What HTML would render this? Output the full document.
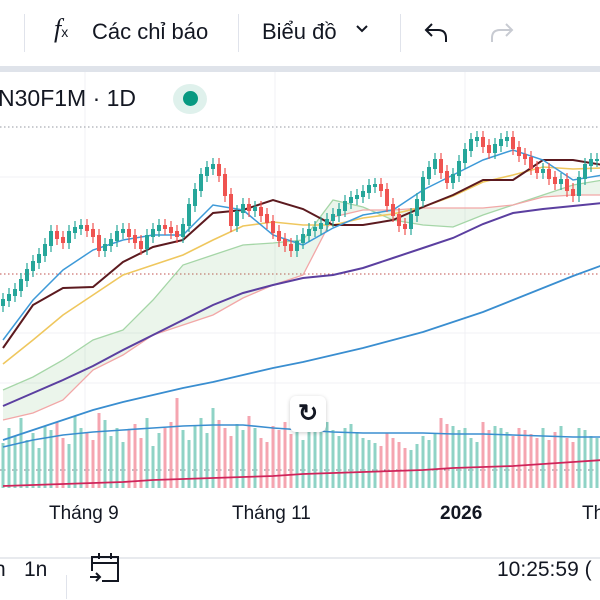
<!DOCTYPE html>
<html><head><meta charset="utf-8"><style>
body{margin:0;width:600px;height:600px;overflow:hidden;background:#fff;font-family:"Liberation Sans","Noto Sans CJK SC",sans-serif;position:relative}
.t{position:absolute;color:#131722;white-space:nowrap}
</style></head><body>
<div class="t" style="left:24px;top:14px;width:1px;height:38px;background:#e0e3eb"></div>
<div class="t" style="left:54px;top:14px;font-size:26px;font-family:'Liberation Serif',serif;font-style:italic">f<span style="font-size:14px;font-style:normal;font-family:'Liberation Sans',sans-serif">x</span></div>
<div class="t" style="left:92px;top:19px;font-size:22px">Các chỉ báo</div>
<div class="t" style="left:238px;top:14px;width:1px;height:38px;background:#e0e3eb"></div>
<div class="t" style="left:262px;top:19px;font-size:22px">Biểu đồ</div>
<div class="t" style="left:354px;top:20px;width:16px;height:16px"><svg width="16" height="16"><polyline points="3,6 8,11 13,6" fill="none" stroke="#131722" stroke-width="2"/></svg></div>
<div class="t" style="left:400px;top:14px;width:1px;height:38px;background:#e0e3eb"></div>
<div class="t" style="left:424px;top:20px;width:26px;height:24px"><svg width="26" height="24"><path d="M8 4 L2 10 L8 16 M2 10 H14 Q22 10 22 18 V22" fill="none" stroke="#131722" stroke-width="2"/></svg></div>
<div class="t" style="left:488px;top:20px;width:26px;height:24px"><svg width="26" height="24"><path d="M18 4 L24 10 L18 16 M24 10 H12 Q4 10 4 18 V22" fill="none" stroke="#c8cbd2" stroke-width="2"/></svg></div>
<div class="t" style="left:0;top:66px;width:600px;height:6px;background:#dfe3ea"></div>
<svg id="c" width="600" height="600" style="position:absolute;left:0;top:0"></svg>
<div class="t" style="left:-2px;top:85px;font-size:23px">N30F1M · 1D</div>
<div class="t" style="left:173px;top:84px;width:34px;height:30px;border-radius:50%;background:#dff1ec"></div>
<div class="t" style="left:183px;top:91px;width:15px;height:15px;border-radius:50%;background:#089981"></div>
<div class="t" style="left:290px;top:396px;width:36px;height:36px;border-radius:6px;background:#fff;box-shadow:0 1px 4px rgba(0,0,0,.2);font-size:24px;text-align:center;line-height:36px;font-weight:bold">↻</div>
<div class="t" style="left:49px;top:503px;font-size:19px">Tháng 9</div>
<div class="t" style="left:232px;top:503px;font-size:19px">Tháng 11</div>
<div class="t" style="left:440px;top:503px;font-size:19px;font-weight:bold">2026</div>
<div class="t" style="left:582px;top:503px;font-size:19px">Th</div>
<div class="t" style="left:0;top:557px;width:600px;height:2px;background:#e8eaee"></div>
<div class="t" style="left:-6px;top:558px;font-size:21px">n</div>
<div class="t" style="left:24px;top:558px;font-size:21px">1n</div>
<div class="t" style="left:66px;top:575px;width:1px;height:24px;background:#e0e3eb"></div>
<div class="t" style="left:88px;top:551px;width:34px;height:34px">
<svg width="34" height="34"><path d="M4 20 V6 H30 V30 H14" fill="none" stroke="#131722" stroke-width="2"/><line x1="4" y1="12" x2="30" y2="12" stroke="#131722" stroke-width="2"/><line x1="11" y1="2" x2="11" y2="8" stroke="#131722" stroke-width="2"/><line x1="23" y1="2" x2="23" y2="8" stroke="#131722" stroke-width="2"/><path d="M2 26 H12 M8 22 L12 26 L8 30" fill="none" stroke="#131722" stroke-width="2"/></svg></div>
<div class="t" style="left:497px;top:558px;font-size:21px">10:25:59 (</div>
<script>
const closes=[1780,1785,1790,1800,1810,1818,1825,1835,1848,1842,1838,1848,1852,1854,1850,1844,1830,1835,1840,1848,1850,1844,1838,1832,1844,1850,1854,1852,1848,1844,1855,1875,1890,1905,1912,1915,1905,1885,1855,1868,1875,1870,1872,1865,1858,1848,1840,1835,1830,1838,1845,1850,1852,1856,1860,1865,1870,1878,1882,1884,1888,1894,1895,1890,1875,1865,1855,1852,1865,1880,1902,1912,1920,1908,1898,1905,1918,1930,1940,1942,1934,1928,1935,1940,1942,1932,1925,1922,1912,1908,1910,1902,1897,1900,1890,1885,1902,1915,1920,1920];
const volumes=[45,60,52,70,48,55,40,62,58,66,50,44,72,60,55,48,75,68,52,60,46,58,64,50,70,42,55,60,66,90,58,48,62,70,55,80,68,60,52,64,58,72,60,50,46,62,58,66,54,60,48,56,62,70,66,58,52,60,64,56,50,48,45,42,55,50,46,40,38,44,52,48,55,70,64,62,58,60,50,46,66,58,62,60,56,52,60,58,54,50,60,48,56,62,50,46,60,58,52,50];
const maroon=[1732,1775,1792,1793,1818,1833,1840,1867,1870,1880,1871,1855,1855,1860,1873,1885,1900,1900,1920,1920,1915];
const yellow=[1716,1740,1765,1785,1805,1815,1825,1840,1854,1858,1855,1855,1862,1866,1873,1884,1898,1905,1913,1911,1912];
const purple=[1674,1687,1700,1714,1730,1745,1760,1775,1787,1795,1802,1805,1812,1822,1832,1842,1856,1867,1871,1874,1877];
const longBlue=[1640,1650,1660,1670,1678,1685,1692,1698,1705,1712,1718,1725,1732,1740,1748,1758,1768,1780,1792,1804,1815];
const fastBlue=[1740,1780,1810,1830,1840,1845,1845,1875,1870,1845,1835,1852,1865,1870,1890,1905,1920,1930,1920,1900,1905];
const spanA=[1690,1703,1720,1740,1750,1780,1815,1825,1835,1837,1840,1880,1873,1860,1855,1853,1865,1875,1885,1895,1900];
const spanB=[1660,1667,1680,1710,1725,1745,1755,1765,1782,1795,1805,1863,1870,1870,1872,1872,1872,1875,1883,1885,1885];
const volMA=[41,48,53,56,58,60,62,63,63,60,58,56,55,55,55,54,54,53,52,51,51];
const volMA2=[2,3,4,5,6,8,9,10,11,12,14,15,16,17,18,20,21,22,24,26,28];

const svg=document.getElementById('c');const NS='http://www.w3.org/2000/svg';
const step=600/closes.length;
const xi=i=>step/2+i*step;
const xs=k=>3+k*30;
const yp=p=>2080-p;
const yv=v=>488-v;
function mk(tag,at,name){const e=document.createElementNS(NS,tag);for(const k in at)e.setAttribute(k,at[k]);


svg.appendChild(e);return e;}
[85,275,465].forEach(x=>mk('line',{x1:x,y1:72,x2:x,y2:490,stroke:'#f0f1f4'},'grid-line-vertical'));
[177,333,383].forEach(y=>mk('line',{x1:0,y1:y,x2:600,y2:y,stroke:'#f0f1f4'},'grid-line-horizontal'));
mk('line',{x1:0,y1:127,x2:600,y2:127,stroke:'#9598a1','stroke-dasharray':'1.5,2.5'},'high-price-line');
mk('line',{x1:0,y1:274,x2:600,y2:274,stroke:'#c0504d','stroke-dasharray':'1.5,2.5'},'low-price-line');
mk('line',{x1:0,y1:470,x2:600,y2:470,stroke:'#787b86','stroke-dasharray':'1.5,2.5'},'volume-dotted-line');
volumes.forEach((v,i)=>{const up=i==0||closes[i]>=closes[i-1];
mk('rect',{x:xi(i)-1.5,y:yv(v),width:3,height:v,fill:up?'#8fd3c6':'#f5a5b0'},'volume-bar');});
function line(arr,f,col,w,name){return mk('polyline',{points:arr.map((v,k)=>xs(k)+','+f(v)).join(' '),fill:'none',stroke:col,'stroke-width':w},name);}
let pts=spanA.map((v,k)=>xs(k)+','+yp(v)).concat(spanB.map((v,k)=>xs(k)+','+yp(v)).reverse());
mk('polygon',{points:pts.join(' '),fill:'rgba(120,190,120,0.15)'},'ichimoku-cloud');
line(spanA,yp,'#a5d6a7',1.3,'cloud-span-a');
line(spanB,yp,'#f2a7a7',1.3,'cloud-span-b');
line(longBlue,yp,'#3a8ed0',1.8,'ma-long-line');
line(purple,yp,'#5b3fa0',2,'ma-purple-line');
line(yellow,yp,'#efc75e',1.6,'ma-yellow-line');
line(maroon,yp,'#5c1a1f',2,'kijun-line');
line(fastBlue,yp,'#3e9ad8',1.5,'tenkan-line');
line(volMA,yv,'#3a8ed0',1.6,'volume-ma-line');
line(volMA2,yv,'#d0245a',1.8,'volume-ma2-line');
closes.forEach((c,i)=>{const o=i==0?c-5:closes[i-1];const up=c>=o;const col=up?'#26a69a':'#ef5350';
const top=yp(Math.max(o,c)),bot=yp(Math.min(o,c));
mk('line',{x1:xi(i),y1:top-7,x2:xi(i),y2:bot+7,stroke:col,'stroke-width':1.2},'candle-wick');
mk('rect',{x:xi(i)-2,y:top-1,width:4,height:Math.max(2,bot-top+2),fill:col},'candle-body');});
</script>
</body></html>
